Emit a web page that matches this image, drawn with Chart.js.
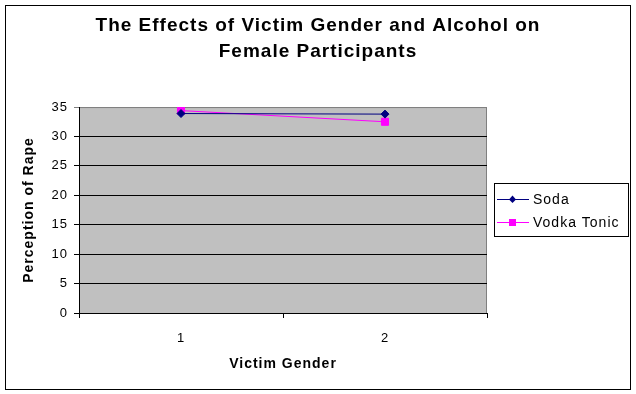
<!DOCTYPE html>
<html>
<head>
<meta charset="utf-8">
<script src="https://cdn.jsdelivr.net/npm/chart.js@4"></script>
<style>
  body { margin: 0; background: #fff; }
  canvas { display: block; }
</style>
</head>
<body>
<canvas id="chart" width="636" height="394"></canvas>
<script>
const categories = ["1", "2"];
const sodaValues = [33.9, 33.8];
const vodkaValues = [34.4, 32.5];
const yTicks = [0, 5, 10, 15, 20, 25, 30, 35];

const FONT = "'Liberation Sans', Arial, sans-serif";

// old spreadsheet text runs a bit wider than Liberation Sans
const spacing = {
  id: "spacing",
  beforeUpdate(chart) { chart.ctx.letterSpacing = "1px"; },
  beforeDraw(chart) { chart.ctx.letterSpacing = "1px"; },
};

// grey plot area + outer frame
const frame = {
  id: "frame",
  beforeDraw(chart) {
    const { ctx, chartArea: a } = chart;
    ctx.save();
    ctx.fillStyle = "#fff";
    ctx.fillRect(0, 0, chart.width, chart.height);
    ctx.fillStyle = "#c0c0c0";
    ctx.fillRect(a.left, a.top, a.right - a.left, a.bottom - a.top);
    ctx.strokeStyle = "#808080";
    ctx.lineWidth = 1;
    ctx.strokeRect(a.left + 0.5, a.top + 0.5, a.right - a.left - 1, a.bottom - a.top);
    ctx.strokeStyle = "#000";
    ctx.strokeRect(5.5, 5.5, 625, 384);
    ctx.restore();
  },
};

// boxed legend on the right, like the spreadsheet one
const boxLegend = {
  id: "boxLegend",
  afterDraw(chart) {
    const { ctx } = chart;
    const x = 494, y = 183, w = 134, h = 53;
    ctx.save();
    ctx.fillStyle = "#fff";
    ctx.fillRect(x, y, w, h);
    ctx.strokeStyle = "#000";
    ctx.lineWidth = 1;
    ctx.strokeRect(x + 0.5, y + 0.5, w, h);
    chart.data.datasets.forEach((ds, i) => {
      const cy = y + 16 + i * 23;
      ctx.strokeStyle = ds.borderColor;
      ctx.beginPath();
      ctx.moveTo(x + 3, cy + 0.5);
      ctx.lineTo(x + 35, cy + 0.5);
      ctx.stroke();
      ctx.fillStyle = ds.pointBackgroundColor;
      if (ds.pointStyle === "rect") {
        ctx.fillRect(x + 15, cy - 3, 7, 7);
      } else {
        ctx.beginPath();
        ctx.moveTo(x + 18.5, cy - 3.5);
        ctx.lineTo(x + 22, cy + 0.5);
        ctx.lineTo(x + 18.5, cy + 4);
        ctx.lineTo(x + 15, cy + 0.5);
        ctx.closePath();
        ctx.fill();
      }
      ctx.fillStyle = "#000";
      ctx.font = "14px " + FONT;
      ctx.textBaseline = "middle";
      ctx.fillText(ds.label, x + 39, cy + 1);
    });
    ctx.restore();
  },
};

new Chart(document.getElementById("chart"), {
  type: "line",
  data: {
    labels: categories,
    datasets: [
      {
        label: "Soda",
        data: sodaValues,
        borderColor: "#000080",
        backgroundColor: "#000080",
        pointBackgroundColor: "#000080",
        pointBorderColor: "#000080",
        pointStyle: "rectRot",
        pointRadius: 4,
        borderWidth: 1,
        tension: 0,
      },
      {
        label: "Vodka Tonic",
        data: vodkaValues,
        borderColor: "#ff00ff",
        backgroundColor: "#ff00ff",
        pointBackgroundColor: "#ff00ff",
        pointBorderColor: "#ff00ff",
        pointStyle: "rect",
        pointRadius: 5,
        borderWidth: 1,
        tension: 0,
      },
    ],
  },
  options: {
    responsive: false,
    devicePixelRatio: 1,
    animation: false,
    layout: { padding: 0 },
    plugins: {
      legend: { display: false },
      tooltip: { enabled: false },
      title: {
        display: true,
        text: ["The Effects of Victim Gender and Alcohol on", "Female Participants"],
        color: "#000",
        font: { family: FONT, size: 19, weight: "bold", lineHeight: 1.37 },
        padding: { top: 13, bottom: 42 },
      },
    },
    scales: {
      x: {
        offset: true,
        afterFit: (s) => { s.height = 81; },
        grid: { drawOnChartArea: false, offset: true, color: "#000", tickLength: 5 },
        border: { color: "#000" },
        ticks: { color: "#000", font: { family: FONT, size: 13 }, padding: 13 },
        title: {
          display: true,
          text: "Victim Gender",
          color: "#000",
          font: { family: FONT, size: 14, weight: "bold" },
          padding: { top: 0, bottom: 21 },
        },
      },
      y: {
        min: 0,
        max: 35,
        afterFit: (s) => { s.width = 79; },
        afterBuildTicks: (s) => { s.ticks = yTicks.map((v) => ({ value: v })); },
        grid: {
          color: (c) => (c.tick && c.tick.value === 35 ? "#808080" : "#000"),
          tickLength: 5,
        },
        border: { color: "#000" },
        ticks: { color: "#000", font: { family: FONT, size: 13 }, padding: 6 },
        title: {
          display: true,
          text: "Perception of Rape",
          color: "#000",
          font: { family: FONT, size: 14, weight: "bold" },
          padding: { top: 21, bottom: 0 },
        },
      },
      // empty strip on the right that holds the legend box
      side: {
        axis: "y",
        position: "right",
        afterFit: (s) => { s.width = 149; },
        grid: { display: false },
        border: { display: false },
        ticks: { display: false },
      },
    },
  },
  plugins: [spacing, frame, boxLegend],
});
</script>
</body>
</html>
